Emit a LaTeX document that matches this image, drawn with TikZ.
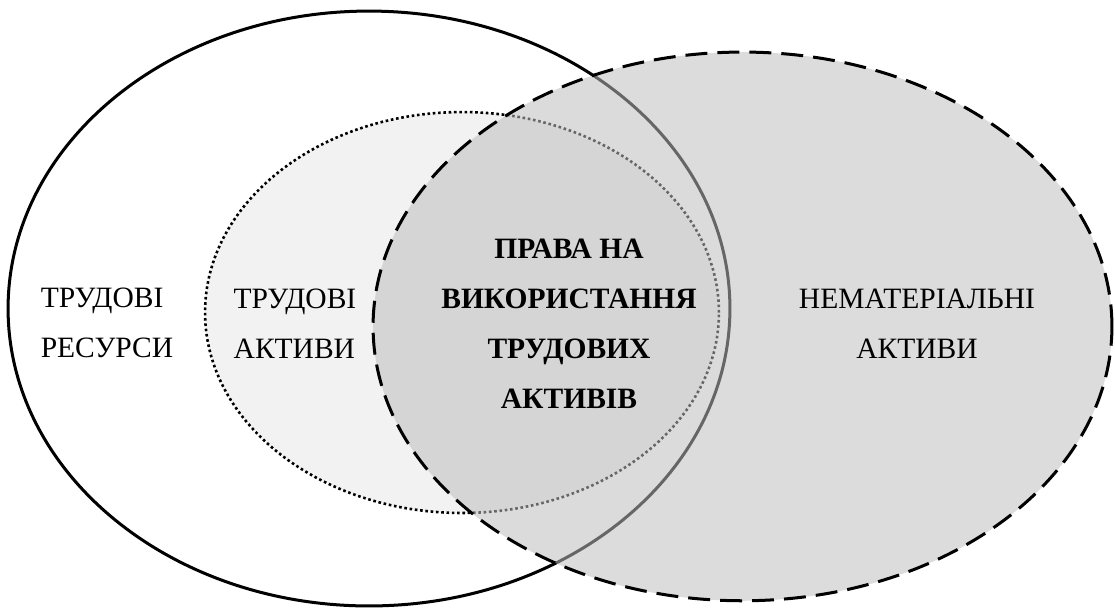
\documentclass[tikz,border=0pt]{standalone}
\usepackage{fontspec}
\setmainfont{Liberation Serif}
\begin{document}
\begin{tikzpicture}[x=0.02cm,y=-0.02cm,
  ring/.style={line width=1.71pt},
  label/.style={inner sep=0pt, font=\fontsize{16.8pt}{28.4pt}\selectfont},
  boldlabel/.style={label, font=\fontsize{16.8pt}{28.4pt}\selectfont\bfseries, align=center}]
  \useasboundingbox (0,0) rectangle (1115,610);
  % labour resources
  \draw[ring, fill=white] (369,308.5) ellipse [x radius=7.22cm, y radius=5.95cm];
  % labour assets
  \draw[line width=1.48pt, dash pattern=on 1.48pt off 1.54pt, fill={rgb,255:red,242;green,242;blue,242}]
    (462,312.5) ellipse [x radius=5.14cm, y radius=4.01cm];
  % intangible assets, translucent fill over the others
  \fill[fill={rgb,255:red,190;green,190;blue,190}, fill opacity=0.54]
    (742.5,326.4) ellipse [x radius=7.39cm, y radius=5.488cm];
  \draw[ring, dash pattern=on 12.5pt off 5.7pt]
    (742.5,326.4) ellipse [x radius=7.39cm, y radius=5.488cm];

  \node[label, align=left] (res) at (107,323) {ТРУДОВІ\\РЕСУРСИ};
  \node[label, align=left] (act) at (295,324) {ТРУДОВІ\\АКТИВИ};
  \node[label, align=center] (intang) at (917,324) {НЕМАТЕРІАЛЬНІ\\АКТИВИ};
  \node[boldlabel] (rights) at (569,324) {ПРАВА НА\\ВИКОРИСТАННЯ\\ТРУДОВИХ\\АКТИВІВ};
\end{tikzpicture}
\end{document}
